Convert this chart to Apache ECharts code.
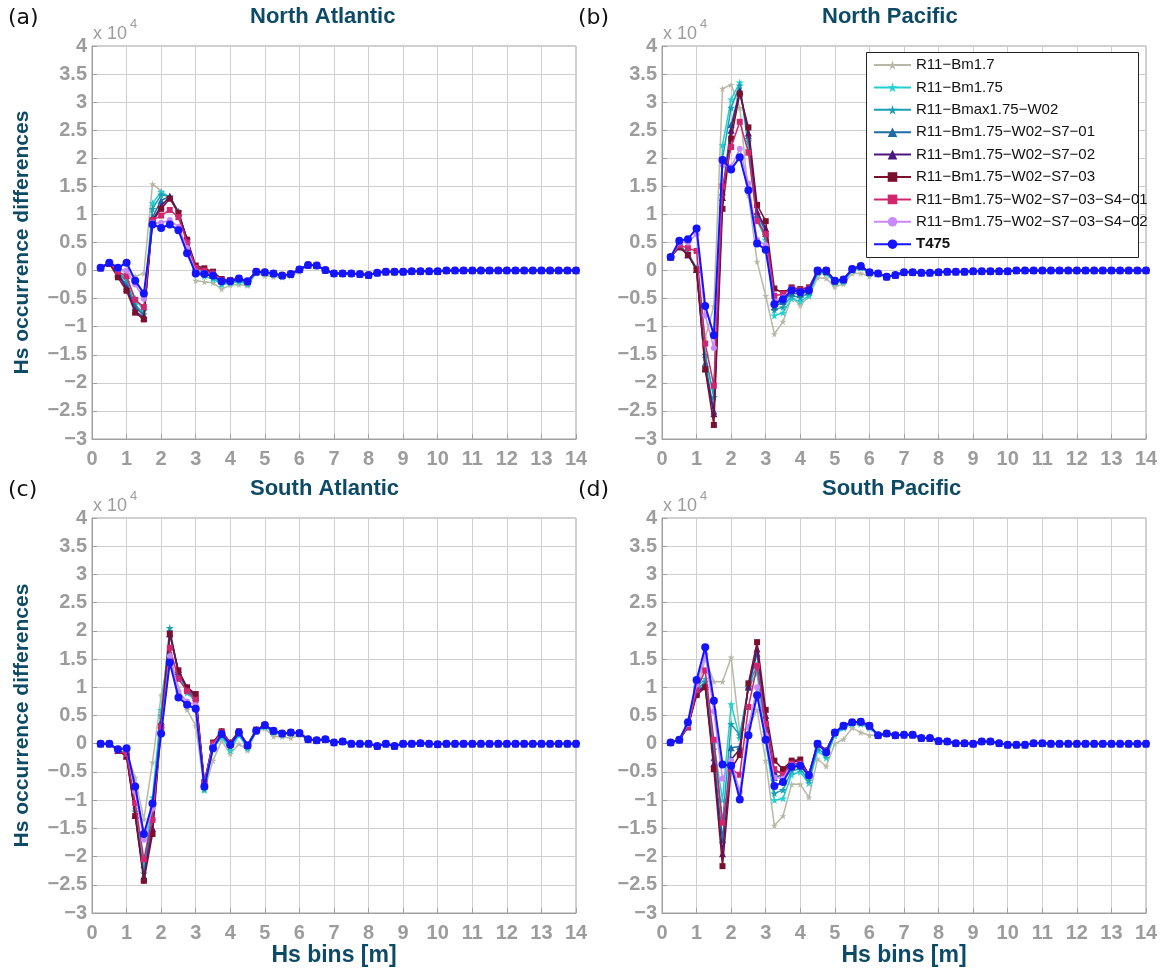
<!DOCTYPE html>
<html>
<head>
<meta charset="utf-8">
<title>Hs occurrence differences</title>
<script src="https://cdn.jsdelivr.net/npm/echarts@6.0.0/dist/echarts.min.js"></script>
<style>
    html, body { margin: 0; padding: 0; background: #fff; }
    #chart { width: 1165px; height: 972px; }
</style>
</head>
<body>
<div id="chart"></div>
<script>
// Hs bin centres [m]
var hsBins = [0.25, 0.5, 0.75, 1, 1.25, 1.5, 1.75, 2, 2.25, 2.5, 2.75, 3, 3.25, 3.5, 3.75, 4,
    4.25, 4.5, 4.75, 5, 5.25, 5.5, 5.75, 6, 6.25, 6.5, 6.75, 7, 7.25, 7.5, 7.75, 8,
    8.25, 8.5, 8.75, 9, 9.25, 9.5, 9.75, 10, 10.25, 10.5, 10.75, 11, 11.25, 11.5, 11.75, 12,
    12.25, 12.5, 12.75, 13, 13.25, 13.5, 13.75, 14];

var seriesNames = ['R11−Bm1.7', 'R11−Bm1.75', 'R11−Bmax1.75−W02', 'R11−Bm1.75−W02−S7−01',
    'R11−Bm1.75−W02−S7−02', 'R11−Bm1.75−W02−S7−03', 'R11−Bm1.75−W02−S7−03−S4−01',
    'R11−Bm1.75−W02−S7−03−S4−02', 'T475'];

var panelTitles = ['North Atlantic', 'North Pacific', 'South Atlantic', 'South Pacific'];
var panelTags = ['(a)', '(b)', '(c)', '(d)'];
var yTicks = [-3, -2.5, -2, -1.5, -1, -0.5, 0, 0.5, 1, 1.5, 2, 2.5, 3, 3.5, 4];

// differences (x 10^4) for Hs = 0.25 ... 6.0 m, one row per series (legend order)
var northAtlantic = [
    [0.05, 0.14, 0.03, -0.05, -0.10, -0.05, 1.54, 1.42, 1.30, 1.02, 0.50, -0.18, -0.20, -0.22, -0.33, -0.26, -0.25, -0.27, -0.05, -0.09, -0.11, -0.12, -0.10, -0.02],
    [0.05, 0.14, 0.00, -0.15, -0.50, -0.72, 1.20, 1.40, 1.30, 1.05, 0.55, -0.05, -0.10, -0.15, -0.25, -0.22, -0.20, -0.24, -0.03, -0.05, -0.07, -0.10, -0.07, 0.02],
    [0.05, 0.14, -0.02, -0.20, -0.60, -0.78, 1.10, 1.35, 1.32, 1.05, 0.55, 0.00, -0.05, -0.12, -0.22, -0.20, -0.17, -0.22, -0.03, -0.04, -0.06, -0.10, -0.07, 0.02],
    [0.05, 0.13, -0.04, -0.28, -0.65, -0.80, 0.95, 1.25, 1.32, 1.02, 0.55, 0.03, 0.00, -0.05, -0.18, -0.18, -0.15, -0.20, -0.02, -0.03, -0.05, -0.09, -0.06, 0.02],
    [0.05, 0.13, -0.06, -0.32, -0.72, -0.84, 0.90, 1.15, 1.32, 1.03, 0.55, 0.06, 0.02, -0.03, -0.16, -0.17, -0.14, -0.19, -0.02, -0.03, -0.05, -0.09, -0.06, 0.02],
    [0.05, 0.13, -0.12, -0.36, -0.75, -0.87, 0.88, 1.10, 1.28, 1.03, 0.55, 0.09, 0.04, -0.02, -0.15, -0.17, -0.14, -0.19, -0.02, -0.03, -0.05, -0.09, -0.06, 0.02],
    [0.05, 0.14, -0.02, -0.10, -0.52, -0.65, 0.90, 0.98, 1.08, 0.95, 0.50, 0.05, 0.00, -0.05, -0.17, -0.18, -0.14, -0.19, -0.02, -0.03, -0.05, -0.09, -0.06, 0.02],
    [0.05, 0.14, 0.03, 0.00, -0.25, -0.50, 0.85, 0.85, 0.90, 0.78, 0.40, -0.02, -0.04, -0.07, -0.18, -0.19, -0.14, -0.19, -0.02, -0.03, -0.05, -0.09, -0.06, 0.02],
    [0.05, 0.14, 0.05, 0.14, -0.18, -0.41, 0.82, 0.76, 0.82, 0.72, 0.31, -0.05, -0.06, -0.09, -0.19, -0.19, -0.14, -0.19, -0.02, -0.03, -0.05, -0.09, -0.06, 0.02]
];
var northPacific = [
    [0.24, 0.45, 0.30, 0.00, -1.20, -0.63, 3.24, 3.31, 2.90, 1.34, 0.16, -0.45, -1.13, -0.91, -0.47, -0.62, -0.46, -0.13, -0.14, -0.29, -0.24, -0.05, -0.05, -0.10],
    [0.24, 0.45, 0.32, 0.05, -1.55, -2.25, 2.24, 3.05, 3.35, 2.15, 0.90, 0.55, -0.80, -0.75, -0.50, -0.55, -0.45, -0.05, -0.05, -0.22, -0.20, 0.00, 0.05, -0.05],
    [0.24, 0.45, 0.30, 0.03, -1.50, -2.25, 2.00, 2.90, 3.30, 2.30, 0.95, 0.60, -0.70, -0.65, -0.45, -0.48, -0.40, -0.03, -0.03, -0.20, -0.18, 0.01, 0.06, -0.04],
    [0.24, 0.43, 0.28, 0.02, -1.65, -2.50, 1.40, 2.60, 3.20, 2.40, 1.00, 0.70, -0.65, -0.55, -0.40, -0.42, -0.37, -0.02, -0.02, -0.19, -0.17, 0.02, 0.07, -0.03],
    [0.24, 0.42, 0.28, 0.02, -1.75, -2.55, 1.30, 2.50, 3.20, 2.45, 1.05, 0.75, -0.58, -0.50, -0.35, -0.38, -0.34, -0.01, -0.01, -0.18, -0.16, 0.03, 0.08, -0.03],
    [0.24, 0.42, 0.28, 0.02, -1.76, -2.75, 1.10, 2.35, 3.15, 2.55, 1.17, 0.88, -0.32, -0.40, -0.30, -0.33, -0.30, 0.00, 0.00, -0.18, -0.16, 0.03, 0.08, -0.03],
    [0.24, 0.45, 0.40, 0.35, -1.30, -2.05, 1.50, 2.20, 2.65, 2.10, 0.88, 0.65, -0.45, -0.42, -0.32, -0.35, -0.32, 0.00, 0.00, -0.18, -0.16, 0.03, 0.08, -0.03],
    [0.24, 0.50, 0.50, 0.65, -0.80, -1.38, 1.88, 1.85, 2.17, 1.55, 0.55, 0.45, -0.55, -0.48, -0.34, -0.37, -0.34, 0.00, 0.00, -0.18, -0.16, 0.03, 0.08, -0.03],
    [0.24, 0.53, 0.56, 0.75, -0.63, -1.15, 1.97, 1.80, 2.02, 1.43, 0.48, 0.37, -0.60, -0.51, -0.35, -0.38, -0.35, 0.00, 0.00, -0.18, -0.16, 0.03, 0.08, -0.03]
];
var southAtlantic = [
    [0.00, 0.00, -0.12, -0.15, -0.60, -1.34, -0.33, 0.86, 1.60, 1.00, 0.60, 0.32, -0.82, -0.30, 0.05, -0.18, 0.00, -0.12, 0.22, 0.27, 0.13, 0.12, 0.10, 0.15],
    [0.00, 0.00, -0.12, -0.18, -1.15, -2.20, -0.95, 0.60, 2.00, 1.25, 0.90, 0.75, -0.82, -0.10, 0.12, -0.12, 0.15, -0.08, 0.22, 0.30, 0.20, 0.16, 0.18, 0.18],
    [0.00, 0.00, -0.12, -0.20, -1.20, -2.30, -1.10, 0.50, 2.05, 1.25, 0.95, 0.80, -0.80, -0.05, 0.15, -0.05, 0.18, -0.05, 0.23, 0.32, 0.22, 0.17, 0.19, 0.18],
    [0.00, 0.00, -0.12, -0.20, -1.25, -2.35, -1.30, 0.40, 1.95, 1.25, 0.98, 0.82, -0.75, 0.00, 0.20, 0.00, 0.20, -0.03, 0.24, 0.33, 0.22, 0.18, 0.20, 0.19],
    [0.00, 0.00, -0.12, -0.22, -1.27, -2.38, -1.50, 0.35, 1.95, 1.28, 1.00, 0.85, -0.70, 0.02, 0.22, 0.02, 0.22, -0.02, 0.25, 0.33, 0.23, 0.18, 0.20, 0.19],
    [0.00, 0.00, -0.12, -0.22, -1.28, -2.43, -1.60, 0.30, 1.95, 1.30, 1.00, 0.88, -0.68, 0.02, 0.22, 0.02, 0.22, -0.02, 0.25, 0.33, 0.23, 0.18, 0.20, 0.19],
    [0.00, 0.00, -0.12, -0.18, -1.05, -2.05, -1.35, 0.30, 1.70, 1.15, 0.93, 0.78, -0.70, 0.00, 0.20, 0.00, 0.20, -0.03, 0.24, 0.33, 0.23, 0.18, 0.20, 0.19],
    [0.00, 0.00, -0.10, -0.10, -0.85, -1.70, -1.15, 0.20, 1.55, 0.92, 0.75, 0.68, -0.74, -0.05, 0.18, -0.02, 0.20, -0.03, 0.23, 0.33, 0.23, 0.18, 0.20, 0.19],
    [0.00, 0.00, -0.10, -0.08, -0.76, -1.60, -1.06, 0.18, 1.44, 0.82, 0.69, 0.62, -0.76, -0.08, 0.17, -0.02, 0.20, -0.03, 0.23, 0.33, 0.23, 0.18, 0.20, 0.19]
];
var southPacific = [
    [0.02, 0.07, 0.30, 0.90, 1.50, 1.10, 1.10, 1.53, 0.20, 0.30, 0.60, -0.30, -1.45, -1.28, -0.72, -0.72, -0.95, -0.27, -0.40, 0.00, 0.08, 0.28, 0.20, 0.15],
    [0.02, 0.07, 0.30, 1.00, 1.15, 0.00, -1.00, 0.70, 0.10, 1.00, 1.25, 0.05, -1.00, -0.97, -0.55, -0.50, -0.70, -0.12, -0.25, 0.15, 0.28, 0.35, 0.35, 0.28],
    [0.02, 0.07, 0.30, 0.95, 1.10, -0.10, -1.40, 0.35, 0.15, 1.00, 1.40, 0.20, -0.88, -0.82, -0.48, -0.45, -0.65, -0.08, -0.20, 0.18, 0.30, 0.37, 0.37, 0.30],
    [0.02, 0.07, 0.30, 0.92, 1.05, -0.25, -1.70, -0.07, -0.05, 1.00, 1.60, 0.40, -0.60, -0.55, -0.35, -0.35, -0.55, 0.00, -0.12, 0.20, 0.32, 0.38, 0.39, 0.32],
    [0.02, 0.07, 0.30, 0.90, 1.02, -0.35, -1.95, -0.28, -0.10, 1.02, 1.68, 0.50, -0.50, -0.50, -0.32, -0.30, -0.55, 0.00, -0.12, 0.20, 0.32, 0.38, 0.39, 0.32],
    [0.02, 0.07, 0.30, 0.86, 1.00, -0.45, -2.17, -0.45, -0.20, 1.07, 1.80, 0.60, -0.30, -0.45, -0.30, -0.28, -0.55, 0.00, -0.12, 0.20, 0.32, 0.38, 0.39, 0.32],
    [0.02, 0.07, 0.30, 0.95, 1.30, 0.07, -1.40, -0.45, -0.55, 0.65, 1.38, 0.35, -0.45, -0.55, -0.35, -0.35, -0.55, 0.00, -0.13, 0.20, 0.32, 0.38, 0.39, 0.32],
    [0.02, 0.07, 0.35, 1.05, 1.58, 0.57, -0.62, -0.30, -0.85, 0.30, 1.00, 0.15, -0.60, -0.62, -0.38, -0.37, -0.56, 0.00, -0.14, 0.20, 0.32, 0.38, 0.39, 0.32],
    [0.02, 0.07, 0.38, 1.13, 1.71, 0.76, -0.37, -0.39, -0.99, 0.15, 0.86, 0.07, -0.75, -0.68, -0.41, -0.39, -0.56, 0.00, -0.15, 0.20, 0.32, 0.38, 0.39, 0.32]
];

// Hs = 6.25 ... 14 m, where all runs nearly coincide
var northAtlanticTail = [0.10, 0.09, 0.01, -0.05, -0.05, -0.05, -0.06, -0.08, -0.04, -0.02, -0.02, -0.02, -0.01, -0.01, -0.01, -0.01,
    0, 0, 0, 0, 0, 0, 0, 0, 0, 0, 0, 0, 0, 0, 0, 0];
var northPacificTail = [-0.05, -0.11, -0.08, -0.03, -0.03, -0.04, -0.04, -0.03, -0.02, -0.02, -0.02, -0.01, -0.01, -0.01, -0.01, -0.01,
    0, 0, 0, 0, 0, 0, 0, 0, 0, 0, 0, 0, 0, 0, 0, 0];
var southAtlanticTail = [0.08, 0.06, 0.08, 0.02, 0.04, 0.00, 0.00, 0.00, -0.04, 0.00, -0.04, 0.00, 0.00, 0.01, 0.00, -0.01,
    0, 0, 0, 0, 0, 0, 0, 0, 0, 0, 0, 0, 0, 0, 0, 0];
var southPacificTail = [0.15, 0.18, 0.15, 0.16, 0.16, 0.10, 0.10, 0.05, 0.04, 0.01, 0.01, 0.00, 0.04, 0.04, 0.01, -0.02,
    -0.02, -0.02, 0.01, 0.01, 0, 0, 0, 0, 0, 0, 0, 0, 0, 0, 0, 0];

var panelHeads = [northAtlantic, northPacific, southAtlantic, southPacific];
var panelTails = [northAtlanticTail, northPacificTail, southAtlanticTail, southPacificTail];

// styles
var starPath = 'path://M50,0 L61,35 L98,35 L68,57 L79,91 L50,70 L21,91 L32,57 L2,35 L39,35 Z';
var seriesColors = ['#b8b8a6', '#22d0d0', '#1aa0b5', '#1d6ca3', '#4a167f', '#7a0f2e', '#d0266e', '#c888ff', '#1414ff'];
var seriesSymbols = [starPath, starPath, starPath, 'triangle', 'triangle', 'rect', 'rect', 'circle', 'circle'];
var seriesSymbolSize = [7, 8, 8, 7, 7, 6, 6, 6, 8];

var gridPos = [
    { left: 92, top: 46 },
    { left: 662, top: 46 },
    { left: 92, top: 518 },
    { left: 662, top: 518 }
];
var labelColor = '#9c9c9c';
var darkBlue = '#0d4a66';
var font = 'Liberation Sans';

var chart = echarts.init(document.getElementById('chart'));

var grids = [], xAxes = [], yAxes = [], series = [], graphics = [];

gridPos.forEach(function (g, gi) {
    var bottomRow = gi >= 2;
    var leftCol = gi % 2 === 0;
    grids.push({
        left: g.left, top: g.top, width: 484, height: bottomRow ? 395 : 393,
        show: true, borderColor: '#a0a0a0', borderWidth: 1
    });
    xAxes.push({
        gridIndex: gi, type: 'value', min: 0, max: 14, interval: 1,
        name: bottomRow ? 'Hs bins [m]' : '',
        nameLocation: 'middle', nameGap: 28,
        nameTextStyle: { color: darkBlue, fontSize: 23, fontWeight: 'bold', fontFamily: font },
        axisLine: { onZero: false, lineStyle: { color: '#a0a0a0' } },
        axisTick: { inside: true, length: 5, lineStyle: { color: '#a0a0a0' } },
        splitLine: { show: true, lineStyle: { color: '#cfcfcf' } },
        axisLabel: { color: labelColor, fontSize: 20, fontWeight: 'bold', fontFamily: font, margin: 10 }
    });
    yAxes.push({
        gridIndex: gi, type: 'value', min: yTicks[0], max: yTicks[yTicks.length - 1], interval: 0.5,
        name: leftCol ? 'Hs occurrence differences' : '',
        nameLocation: 'middle', nameGap: 59,
        nameTextStyle: { color: darkBlue, fontSize: 21, fontWeight: 'bold', fontFamily: font },
        axisLine: { onZero: false, lineStyle: { color: '#a0a0a0' } },
        axisTick: { inside: true, length: 5, lineStyle: { color: '#a0a0a0' } },
        splitLine: { show: true, lineStyle: { color: '#cfcfcf' } },
        axisLabel: {
            color: labelColor, fontSize: 20, fontWeight: 'bold', fontFamily: font, margin: 5,
            formatter: function (v) { return String(v).replace('-', '−'); }
        }
    });

    var head = panelHeads[gi];
    var tail = panelTails[gi];
    head.forEach(function (row, si) {
        var vals = row.concat(tail);
        series.push({
            name: seriesNames[si],
            type: 'line',
            xAxisIndex: gi,
            yAxisIndex: gi,
            data: hsBins.map(function (x, i) { return [x, vals[i]]; }),
            symbol: seriesSymbols[si],
            symbolSize: seriesSymbolSize[si],
            showAllSymbol: true,
            lineStyle: { width: si === 8 ? 2 : 1.5, color: seriesColors[si] },
            itemStyle: { color: seriesColors[si] },
            emphasis: { disabled: true },
            z: 2 + si * 0.01
        });
    });

    var dy = bottomRow ? 472 : 0;
    graphics.push({
        type: 'text', left: leftCol ? 8 : 578, top: 7 + dy,
        style: { text: panelTags[gi], fill: '#111', font: '22px "DejaVu Sans"' }
    });
    graphics.push({
        type: 'text', left: leftCol ? 250 : 822, top: 6 + dy,
        style: { text: panelTitles[gi], fill: darkBlue, font: 'bold 22px "Liberation Sans"' }
    });
    graphics.push({
        type: 'text', left: g.left + 1, top: 25 + dy,
        style: { text: 'x 10', fill: labelColor, font: '18px "Liberation Sans"' }
    });
    graphics.push({
        type: 'text', left: g.left + 38, top: 18 + dy,
        style: { text: '4', fill: labelColor, font: '13px "Liberation Sans"' }
    });
});

// legend frame (text of the longest entries runs up to the edge)
graphics.push({
    type: 'rect', left: 866, top: 52, z: 3,
    shape: { width: 272, height: 205 },
    style: { fill: '#fff', stroke: '#222', lineWidth: 1 }
});

var option = {
    animation: false,
    grid: grids,
    xAxis: xAxes,
    yAxis: yAxes,
    graphic: graphics,
    legend: {
        orient: 'vertical', left: 866, top: 52,
        padding: [5, 0, 0, 7],
        itemWidth: 37, itemHeight: 12, itemGap: 6.4,
        selectedMode: false,
        z: 5,
        data: seriesNames,
        formatter: function (n) { return n === 'T475' ? '{b|T475}' : n; },
        textStyle: {
            fontFamily: font, fontSize: 15, color: '#111', lineHeight: 16,
            rich: { b: { fontWeight: 'bold', fontSize: 15, lineHeight: 16, fontFamily: font } }
        }
    },
    series: series
};
chart.setOption(option);
</script>
</body>
</html>
